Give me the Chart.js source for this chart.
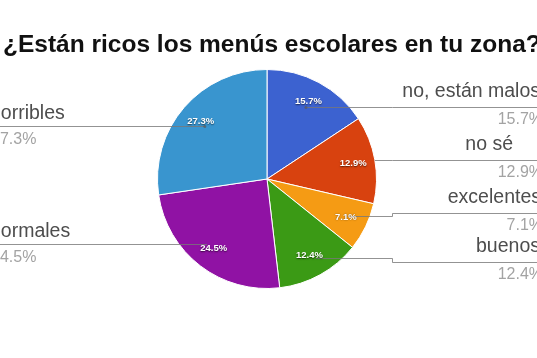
<!DOCTYPE html>
<html>
<head>
<meta charset="utf-8">
<script src="https://cdn.jsdelivr.net/npm/chart.js@4"></script>
<style>
  html, body { margin: 0; padding: 0; background: #fff; }
  #wrap { width: 537px; height: 358px; position: relative; }
</style>
</head>
<body>
<div id="wrap"><canvas id="c" width="537" height="358"></canvas></div>
<script>
// ---- data ----
const title = '¿Están ricos los menús escolares en tu zona?';
const categories = ['no, están malos', 'no sé', 'excelentes', 'buenos', 'normales', 'horribles'];
const percentages = [15.7, 12.9, 7.1, 12.4, 24.5, 27.3];
const percentLabels = ['15.7%', '12.9%', '7.1%', '12.4%', '24.5%', '27.3%'];

// ---- styles ----
const sliceColors = ['#3c62d0', '#d8420f', '#f59b14', '#3b9a15', '#9012a4', '#3995cf'];

// ---- label layout (annotation positions) ----
const side      = ['r', 'r', 'r', 'r', 'l', 'l'];
const leaderR   = [0.75, 1.0, 0.82, 0.92, 0.9, 0.75];
const innerY    = [107, 160, 216, 258, 244, 126];
const outerY    = [107, 160, 213, 262, 244, 126];
const labelEdge = [540, 513, 541, 540, -10, -10];

const labelPlugin = {
  id: 'pieLabels',
  afterDatasetsDraw(chart) {
    const ctx = chart.ctx;
    const meta = chart.getDatasetMeta(0);
    ctx.save();
    // title
    ctx.fillStyle = '#111';
    ctx.font = 'bold 24.5px "Liberation Sans", Arial, sans-serif';
    ctx.textAlign = 'left';
    ctx.textBaseline = 'alphabetic';
    ctx.fillText(title, 3, 52);

    meta.data.forEach((arc, i) => {
      const p = arc.getProps(['x', 'y', 'startAngle', 'endAngle', 'outerRadius'], true);
      const mid = (p.startAngle + p.endAngle) / 2;
      const ax = p.x + Math.cos(mid) * p.outerRadius * leaderR[i];
      const tx = p.x + Math.cos(mid) * p.outerRadius * 0.8;
      const ty = p.y + Math.sin(mid) * p.outerRadius * 0.8;

      // leader line
      ctx.strokeStyle = 'rgba(120,120,120,0.8)';
      ctx.lineWidth = 1;
      ctx.beginPath();
      if (side[i] === 'r') {
        ctx.moveTo(ax, innerY[i] + 0.5);
        ctx.lineTo(392.5, innerY[i] + 0.5);
        ctx.lineTo(392.5, outerY[i] + 0.5);
        ctx.lineTo(540, outerY[i] + 0.5);
      } else {
        ctx.moveTo(ax, innerY[i] + 0.5);
        ctx.lineTo(-2, outerY[i] + 0.5);
      }
      ctx.stroke();
      if (i === 0 || i === 5) {
        ctx.fillStyle = 'rgba(90,90,90,0.7)';
        ctx.beginPath();
        ctx.arc(ax, innerY[i] + 0.5, 1.5, 0, Math.PI * 2);
        ctx.fill();
      }

      // in-slice percentage
      ctx.save();
      ctx.font = 'bold 9.5px "Liberation Sans", Arial, sans-serif';
      ctx.textAlign = 'center';
      ctx.textBaseline = 'middle';
      ctx.shadowColor = 'rgba(0,0,0,0.6)';
      ctx.shadowBlur = 1.5;
      ctx.shadowOffsetX = 0;
      ctx.shadowOffsetY = 0.5;
      ctx.fillStyle = '#ffffff';
      ctx.fillText(percentLabels[i], tx, ty);
      ctx.restore();

      // outside labels
      if (side[i] === 'r') {
        ctx.textAlign = 'right';
        ctx.fillStyle = '#4d4d4d';
        ctx.font = '19.5px "Liberation Sans", Arial, sans-serif';
        ctx.fillText(categories[i], labelEdge[i], outerY[i] - 10);
        ctx.fillStyle = '#a3a3a3';
        ctx.font = '16px "Liberation Sans", Arial, sans-serif';
        ctx.fillText(percentLabels[i], 543, outerY[i] + 17);
      } else {
        ctx.textAlign = 'left';
        ctx.fillStyle = '#4d4d4d';
        ctx.font = '19.5px "Liberation Sans", Arial, sans-serif';
        ctx.fillText(categories[i], labelEdge[i], outerY[i] - 7);
        ctx.fillStyle = '#a3a3a3';
        ctx.font = '16px "Liberation Sans", Arial, sans-serif';
        ctx.fillText(percentLabels[i], -9, outerY[i] + 18);
      }
    });
    ctx.restore();
  }
};

new Chart(document.getElementById('c'), {
  type: 'pie',
  data: {
    labels: categories,
    datasets: [{
      data: percentages,
      backgroundColor: sliceColors,
      borderColor: '#ffffff',
      borderWidth: 1
    }]
  },
  options: {
    responsive: false,
    animation: false,
    layout: { padding: { left: 157, right: 160, top: 69, bottom: 69 } },
    plugins: {
      legend: { display: false },
      tooltip: { enabled: false },
      title: { display: false }
    }
  },
  plugins: [labelPlugin]
});
</script>
</body>
</html>
